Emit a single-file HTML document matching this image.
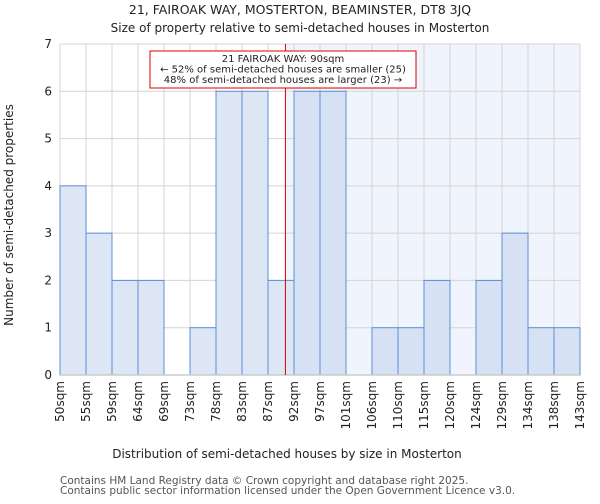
<!DOCTYPE html>
<html><head><meta charset="utf-8"><style>
body{margin:0;background:#fff;font-family:"DejaVu Sans","Liberation Sans",sans-serif;}
</style></head><body>
<svg width="600" height="500" xmlns="http://www.w3.org/2000/svg" font-family="DejaVu Sans, Liberation Sans, sans-serif">
<text x="300" y="14" text-anchor="middle" font-size="12.5" fill="#222">21, FAIROAK WAY, MOSTERTON, BEAMINSTER, DT8 3JQ</text>
<text x="300" y="32" text-anchor="middle" font-size="12" fill="#222">Size of property relative to semi-detached houses in Mosterton</text>
<g id="plot"></g>
<text x="287" y="458" text-anchor="middle" font-size="12" fill="#222">Distribution of semi-detached houses by size in Mosterton</text>
<text transform="translate(13,215) rotate(-90)" text-anchor="middle" font-size="12" fill="#222">Number of semi-detached properties</text>
<text x="60" y="484" font-size="10.5" fill="#555">Contains HM Land Registry data © Crown copyright and database right 2025.</text>
<text x="60" y="494" font-size="10.5" fill="#555">Contains public sector information licensed under the Open Government Licence v3.0.</text>
</svg>
<script>
const tickLabels=["50sqm","55sqm","59sqm","64sqm","69sqm","73sqm","78sqm","83sqm","87sqm","92sqm","97sqm","101sqm","106sqm","110sqm","115sqm","120sqm","124sqm","129sqm","134sqm","138sqm","143sqm"];
const counts=[4,3,2,2,0,1,6,6,2,6,6,0,1,1,2,0,2,3,1,1];
const yTicks=[0,1,2,3,4,5,6,7];
const markerIndex=8.67;
const NS="http://www.w3.org/2000/svg";
const L=60,R=580,T=44,B=375,yMax=7;
const n=counts.length;
const xs=i=>L+(R-L)*i/n;
const ys=v=>B-(B-T)*v/yMax;
const g=document.getElementById('plot');
function mk(t,a){const e=document.createElementNS(NS,t);for(const k in a)e.setAttribute(k,a[k]);g.appendChild(e);return e;}
const mx=xs(markerIndex);
let e=mk('rect',{x:L,y:T,width:R-L,height:B-T,fill:'#fff'});


e=mk('rect',{x:mx,y:T,width:R-mx,height:B-T,fill:'#f0f4fc'});


yTicks.forEach(v=>{
 e=mk('line',{x1:L,x2:R,y1:ys(v),y2:ys(v),stroke:'#d4d4d4','stroke-width':1});
 
 
 e=mk('text',{x:L-8,y:ys(v)+4,'text-anchor':'end','font-size':12,fill:'#222'});
 e.textContent=v;
 
 
});
tickLabels.forEach((s,i)=>{
 e=mk('line',{x1:xs(i),x2:xs(i),y1:T,y2:B,stroke:'#d4d4d4','stroke-width':1});
 
 
 e=mk('text',{transform:`translate(${xs(i)+4},${B+6}) rotate(-90)`,'text-anchor':'end','font-size':12,fill:'#222'});
 e.textContent=s;
 
 
});
counts.forEach((v,i)=>{
 if(v<=0)return;
 e=mk('rect',{x:xs(i),y:ys(v),width:xs(i+1)-xs(i),height:B-ys(v),fill:i>=markerIndex?'#d6e2f4':'#dce6f5',stroke:'#5b8fd6','stroke-width':1});
 
 
});
e=mk('line',{x1:L,x2:R,y1:B,y2:B,stroke:'#ccc','stroke-width':1.5});


e=mk('line',{x1:mx,x2:mx,y1:T,y2:B,stroke:'#dd0000','stroke-width':1});


e=mk('rect',{x:150,y:51,width:266,height:37,fill:'#fff',stroke:'#dd0000','stroke-width':1});


const ann=["21 FAIROAK WAY: 90sqm","← 52% of semi-detached houses are smaller (25)","48% of semi-detached houses are larger (23) →"];
ann.forEach((s,i)=>{
 e=mk('text',{x:283,y:62+i*10.5,'text-anchor':'middle','font-size':10,fill:'#222'});
 e.textContent=s;
 
 
});
</script>
</body></html>
